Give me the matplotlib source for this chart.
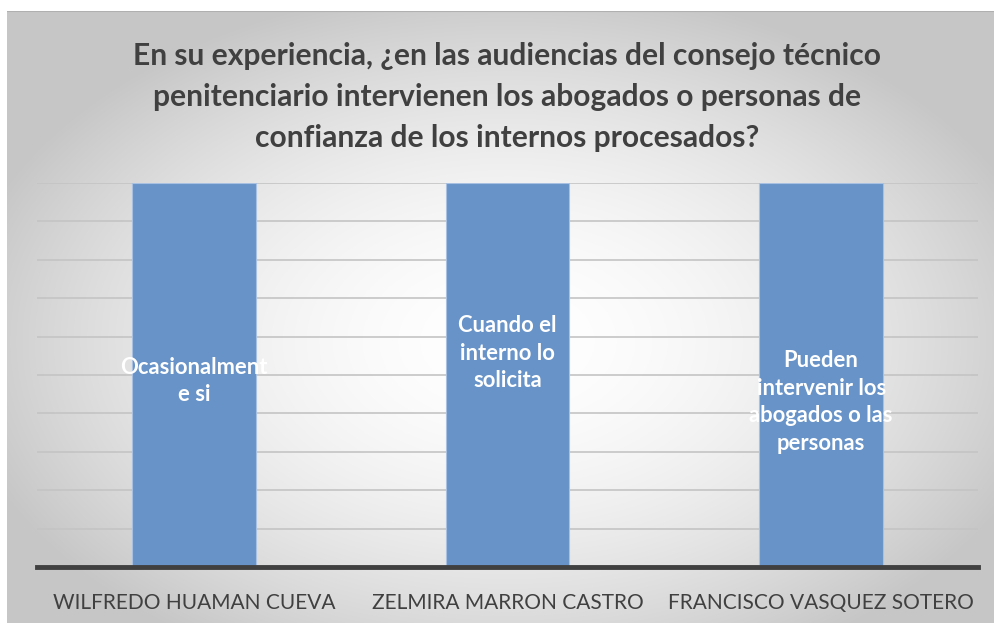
import numpy as np
import matplotlib.pyplot as plt

# chart data
categories = ['WILFREDO HUAMAN CUEVA', 'ZELMIRA MARRON CASTRO', 'FRANCISCO VASQUEZ SOTERO']
values = [10, 10, 10]
answers = ['Ocasionalment\ne si',
           'Cuando el\ninterno lo\nsolicita',
           'Pueden\nintervenir los\nabogados o las\npersonas']
title = ('En su experiencia, ¿en las audiencias del consejo técnico\n'
         'penitenciario intervienen los abogados o personas de\n'
         'confianza de los internos procesados?')

# where each data label sits inside its bar (data units)
label_y = [4.84, 5.57, 4.3]

W, H = 994, 623
fig = plt.figure(figsize=(W / 100, H / 100), dpi=100)
fig.patch.set_facecolor('white')

# radial grey-to-white background of the chart area
bg = fig.add_axes([7 / W, 0, 1 - 7 / W, (H - 11) / H])
yy, xx = np.mgrid[0:612, 0:987]
r = np.sqrt(((xx - 500) / 560.0) ** 2 + ((yy - 330) / 360.0) ** 2)
shade = 255 - 57 * np.clip(r, 0, 1) ** 1.8
img = np.dstack([shade, shade, shade]) / 255.0
bg.imshow(img, aspect='auto', extent=[0, 1, 0, 1], origin='upper')
bg.axhline(1, color='#B0B0B0', lw=1.5)
bg.set_xlim(0, 1)
bg.set_ylim(0, 1)
bg.axis('off')

# plot area
ax = fig.add_axes([37 / W, (H - 567) / H, (978 - 37) / W, (567 - 183) / H])
ax.patch.set_alpha(0)
x = np.arange(len(categories))
bars = ax.bar(x, values, width=0.395, color='#6793C8', edgecolor='#A8C1E2',
              linewidth=0.8, zorder=3)

for xi, txt, ly in zip(x, answers, label_y):
    ax.text(xi, ly, txt, ha='center', va='center', color='white',
            fontsize=15.8, fontweight='bold', family='Lato',
            linespacing=1.38, zorder=4)

ax.set_xlim(-0.5, len(categories) - 0.5)
ax.set_ylim(0, 10)
ax.set_yticks(np.arange(0, 11, 1))
ax.yaxis.grid(True, color='#C4C4C4', lw=1.2, zorder=1)
ax.tick_params(axis='y', left=False, labelleft=False)
ax.tick_params(axis='x', bottom=False, pad=15, labelsize=15, labelcolor='#404040')
ax.set_xticks(x)
ax.set_xticklabels(categories, family='Lato')
for s in ax.spines.values():
    s.set_visible(False)
ax.axhline(0, color='#404040', lw=3.5, zorder=5, clip_on=False)

fig.text(507 / W, 1 - 97 / H, title, ha='center', va='center',
         fontsize=21.6, fontweight='bold', color='#404040', family='Lato',
         linespacing=1.55)

fig.savefig('out.png', dpi=100)
